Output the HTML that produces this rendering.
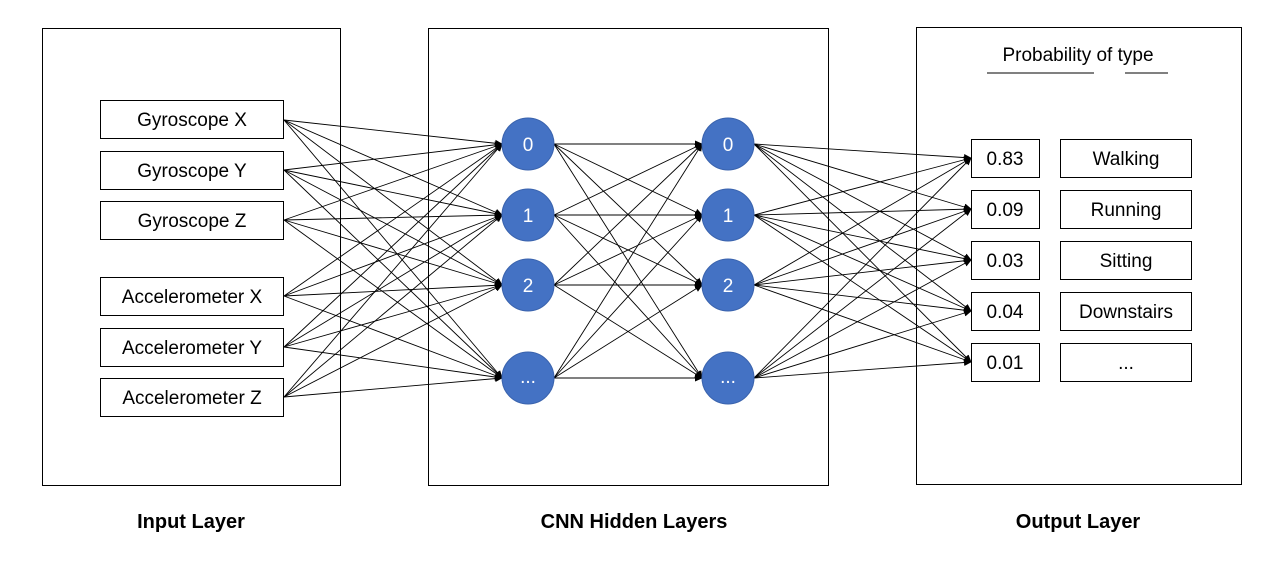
<!DOCTYPE html>
<html><head><style>
body{margin:0;background:#fff;}
svg text{font-family:"Liberation Sans",sans-serif;}
</style></head><body>
<svg width="1280" height="559" xmlns="http://www.w3.org/2000/svg">
<defs><marker id="a" markerWidth="8" markerHeight="8" refX="7" refY="4" orient="auto" markerUnits="userSpaceOnUse"><path d="M0,0.5 L8,4 L0,7.5z" fill="#000"/></marker></defs>
<g fill="none" stroke="#000" stroke-width="1">
<rect x="42.5" y="28.5" width="298" height="457"/>
<rect x="428.5" y="28.5" width="400" height="457"/>
<rect x="916.5" y="27.5" width="325" height="457"/>
</g>
<g id="lines" stroke="#000" stroke-width="0.9" marker-end="url(#a)"></g>
<g fill="#fff" stroke="#000" stroke-width="1">
<rect x="100.5" y="100.5" width="183" height="38"/>
<rect x="100.5" y="151.5" width="183" height="38"/>
<rect x="100.5" y="201.5" width="183" height="38"/>
<rect x="100.5" y="277.5" width="183" height="38"/>
<rect x="100.5" y="328.5" width="183" height="38"/>
<rect x="100.5" y="378.5" width="183" height="38"/>
<rect x="971.5" y="139.5" width="68" height="38"/>
<rect x="971.5" y="190.5" width="68" height="38"/>
<rect x="971.5" y="241.5" width="68" height="38"/>
<rect x="971.5" y="292.5" width="68" height="38"/>
<rect x="971.5" y="343.5" width="68" height="38"/>
<rect x="1060.5" y="139.5" width="131" height="38"/>
<rect x="1060.5" y="190.5" width="131" height="38"/>
<rect x="1060.5" y="241.5" width="131" height="38"/>
<rect x="1060.5" y="292.5" width="131" height="38"/>
<rect x="1060.5" y="343.5" width="131" height="38"/>
</g>
<g fill="#4472c4" stroke="#3a63ad">
<circle cx="528" cy="144" r="26"/><circle cx="528" cy="215" r="26"/><circle cx="528" cy="285" r="26"/><circle cx="528" cy="378" r="26"/>
<circle cx="728" cy="144" r="26"/><circle cx="728" cy="215" r="26"/><circle cx="728" cy="285" r="26"/><circle cx="728" cy="378" r="26"/>
</g>
<g fill="#fff" font-size="19" text-anchor="middle">
<text x="528" y="151">0</text><text x="528" y="222">1</text><text x="528" y="292">2</text><text x="528" y="383">...</text>
<text x="728" y="151">0</text><text x="728" y="222">1</text><text x="728" y="292">2</text><text x="728" y="383">...</text>
</g>
<g fill="#000" font-size="19" text-anchor="middle">
<text x="192" y="126">Gyroscope X</text>
<text x="192" y="177">Gyroscope Y</text>
<text x="192" y="227">Gyroscope Z</text>
<text x="192" y="303">Accelerometer X</text>
<text x="192" y="354">Accelerometer Y</text>
<text x="192" y="404">Accelerometer Z</text>
<text x="1005" y="165">0.83</text><text x="1005" y="216">0.09</text><text x="1005" y="267">0.03</text><text x="1005" y="318">0.04</text><text x="1005" y="369">0.01</text>
<text x="1126" y="165">Walking</text><text x="1126" y="216">Running</text><text x="1126" y="267">Sitting</text><text x="1126" y="318">Downstairs</text><text x="1126" y="369">...</text>
<text x="1078" y="61">Probability of type</text>
</g>
<g stroke="#000" stroke-width="1"><line x1="987" y1="73" x2="1094" y2="73"/><line x1="1125" y1="73" x2="1168" y2="73"/></g>
<g fill="#000" font-size="20" font-weight="bold" text-anchor="middle">
<text x="191" y="528">Input Layer</text>
<text x="634" y="528">CNN Hidden Layers</text>
<text x="1078" y="528">Output Layer</text>
</g>
<script>
var g=document.getElementById('lines'),ns="http://www.w3.org/2000/svg";
function L(x1,y1,x2,y2){var l=document.createElementNS(ns,'line');l.setAttribute('x1',x1);l.setAttribute('y1',y1);l.setAttribute('x2',x2);l.setAttribute('y2',y2);g.appendChild(l);}
var ins=[120,170,220,296,347,397],h=[144,215,285,378],outs=[158,209,260,311,362];
ins.forEach(function(a){h.forEach(function(b){L(284,a,502,b);});});
h.forEach(function(a){h.forEach(function(b){L(554,a,702,b);});});
h.forEach(function(a){outs.forEach(function(b){L(754,a,971,b);});});
</script>
</svg>
</body></html>
